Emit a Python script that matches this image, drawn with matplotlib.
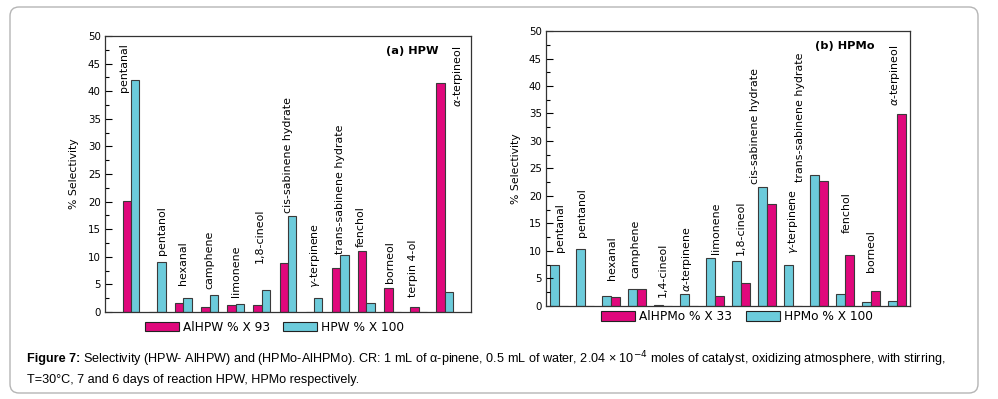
import matplotlib
matplotlib.use("Agg")
import matplotlib.pyplot as plt
from matplotlib.patches import FancyBboxPatch, Patch
from matplotlib.ticker import MultipleLocator
import numpy as np

# ---------------- data ----------------
cats_a = ["pentanal", "pentanol", "hexanal", "camphene", "limonene", "1,8-cineol",
          "cis-sabinene hydrate", r"$\gamma$-terpinene", "trans-sabinene hydrate",
          "fenchol", "borneol", "terpin 4-ol", r"$\alpha$-terpineol"]
alhpw = [20.2, 0.0, 1.6, 0.9, 1.2, 1.2, 8.8, 0.0, 7.9, 11.1, 4.3, 0.9, 41.5]
hpw = [42.1, 9.1, 2.6, 3.1, 1.4, 4.0, 17.4, 2.5, 10.3, 1.7, 0.0, 0.0, 3.7]

cats_b = ["pentanal", "pentanol", "hexanal", "camphene", "1,4-cineol", r"$\alpha$-terpinene",
          "limonene", "1,8-cineol", "cis-sabinene hydrate", r"$\gamma$-terpinene",
          "trans-sabinene hydrate", "fenchol", "borneol", r"$\alpha$-terpineol"]
hpmo = [7.4, 10.3, 1.9, 3.0, 0.2, 2.1, 8.8, 8.2, 21.6, 7.5, 23.9, 2.2, 0.7, 0.9]
alhpmo = [0.0, 0.0, 1.7, 3.1, 0.0, 0.0, 1.75, 4.1, 18.6, 0.0, 22.8, 9.2, 2.7, 34.9]

# label annotation placement (x offset from group centre, y of label bottom)
lab_dx_a = [-0.26, 0.19, 0.0, 0.0, 0.03, -0.08, 0.0, 0.04, 0.0, -0.22, -0.08, -0.2, 0.52]
lab_y_a = [39.8, 10.3, 4.9, 4.1, 2.7, 8.9, 17.9, 4.3, 10.6, 11.8, 5.2, 2.8, 37.1]
lab_dx_b = [0.04, -0.13, 0.03, -0.08, 0.0, -0.08, 0.05, 0.0, -0.45, 0.0, -0.72, 0.08, 0.0, -0.06]
lab_y_b = [9.8, 12.6, 4.7, 5.0, 1.7, 2.6, 9.5, 9.2, 22.2, 9.5, 22.5, 13.2, 6.2, 36.4]

MAG = "#E0087C"
CYN = "#6CCBDB"
EDGE = "#3a3a3a"

fig = plt.figure(figsize=(9.98, 3.99), dpi=100)
plt.rcParams['font.family'] = ['DejaVu Sans']

# outer rounded frame
frame = FancyBboxPatch((0.10, 0.06), 9.68, 3.86, boxstyle="round,pad=0,rounding_size=0.09",
                       transform=fig.dpi_scale_trans, facecolor="none",
                       edgecolor="#b5b5b5", lw=1.0, zorder=-5)
fig.patches.append(frame)

LABEL_SIZE = 7.9


def style_axes(ax):
    ax.set_ylim(0, 50)
    ax.patch.set_alpha(0)
    ax.yaxis.set_major_locator(MultipleLocator(5))
    ax.yaxis.set_minor_locator(MultipleLocator(2.5))
    ax.tick_params(axis='y', which='major', direction='in', length=5, width=0.8,
                   labelsize=7.4, pad=3)
    ax.tick_params(axis='y', which='minor', direction='in', length=3, width=0.8)
    ax.tick_params(axis='x', which='both', bottom=False, labelbottom=False)
    for s in ax.spines.values():
        s.set_linewidth(0.9)
        s.set_color("#333333")
    ax.set_ylabel("% Selectivity", fontsize=7.8, labelpad=6)


# ---------- panel (a) ----------
axa = fig.add_axes([0.1052, 0.2180, 0.3667, 0.6917])
xa = np.arange(1, len(cats_a) + 1)
wa = 0.32
axa.bar(xa - wa / 2, alhpw, wa, color=MAG, edgecolor=EDGE, lw=0.8)
axa.bar(xa + wa / 2, hpw, wa, color=CYN, edgecolor=EDGE, lw=0.8)
axa.set_xlim(0, 14)
style_axes(axa)
for i, c in enumerate(cats_a):
    axa.text(xa[i] + lab_dx_a[i], lab_y_a[i], c, rotation=90, ha='center', va='bottom',
             fontsize=LABEL_SIZE)
axa.text(12.75, 47.2, "(a) HPW", ha='right', va='center', fontsize=8.2, fontweight='bold')
fig.legend(handles=[Patch(facecolor=MAG, edgecolor="#222222", lw=0.8, label="AlHPW % X 93"),
                    Patch(facecolor=CYN, edgecolor="#222222", lw=0.8, label="HPW % X 100")],
           loc='center', bbox_to_anchor=(0.275, 0.180), ncol=2, frameon=False,
           fontsize=8.7, handlelength=2.8, handleheight=0.85, handletextpad=0.35,
           columnspacing=1.1, borderpad=0.1)

# ---------- panel (b) ----------
axb = fig.add_axes([0.5471, 0.2331, 0.3647, 0.6892])
xb = np.arange(len(cats_b))
wb = 0.35
axb.bar(xb - wb / 2, hpmo, wb, color=CYN, edgecolor=EDGE, lw=0.8)
axb.bar(xb + wb / 2, alhpmo, wb, color=MAG, edgecolor=EDGE, lw=0.8)
axb.set_xlim(-0.5, 13.5)
style_axes(axb)
for i, c in enumerate(cats_b):
    axb.text(xb[i] + lab_dx_b[i], lab_y_b[i], c, rotation=90, ha='center', va='bottom',
             fontsize=LABEL_SIZE)
axb.text(12.15, 47.3, "(b) HPMo", ha='right', va='center', fontsize=8.2, fontweight='bold')
fig.legend(handles=[Patch(facecolor=MAG, edgecolor="#222222", lw=0.8, label="AlHPMo % X 33"),
                    Patch(facecolor=CYN, edgecolor="#222222", lw=0.8, label="HPMo % X 100")],
           loc='center', bbox_to_anchor=(0.7385, 0.2068), ncol=2, frameon=False,
           fontsize=8.7, handlelength=2.8, handleheight=0.85, handletextpad=0.35,
           columnspacing=1.1, borderpad=0.1)

# ---------- caption ----------
cap_font = ['Liberation Sans Narrow', 'Liberation Sans', 'DejaVu Sans']
cap_size = 9.1
x0 = 27 / 998
y1 = 1 - 359 / 399
y2 = 1 - 380 / 399
t_bold = fig.text(x0, y1, "Figure 7:", fontsize=cap_size, fontweight='bold', family=cap_font,
                  ha='left', va='center')
fig.canvas.draw()
r = fig.canvas.get_renderer()
bb = t_bold.get_window_extent(renderer=r)
xr = (bb.x1 + 3) / fig.bbox.width
fig.text(xr, y1, "Selectivity (HPW- AlHPW) and (HPMo-AlHPMo). CR: 1 mL of \u03b1-pinene, "
         "0.5 mL of water, 2.04 \u00d7 10$^{-4}$ moles of catalyst, oxidizing atmosphere, with stirring,",
         fontsize=cap_size, family=cap_font, ha='left', va='center')
fig.text(x0, y2, "T=30\u00b0C, 7 and 6 days of reaction HPW, HPMo respectively.",
         fontsize=cap_size, family=cap_font, ha='left', va='center')

fig.savefig("out.png", dpi=100)
